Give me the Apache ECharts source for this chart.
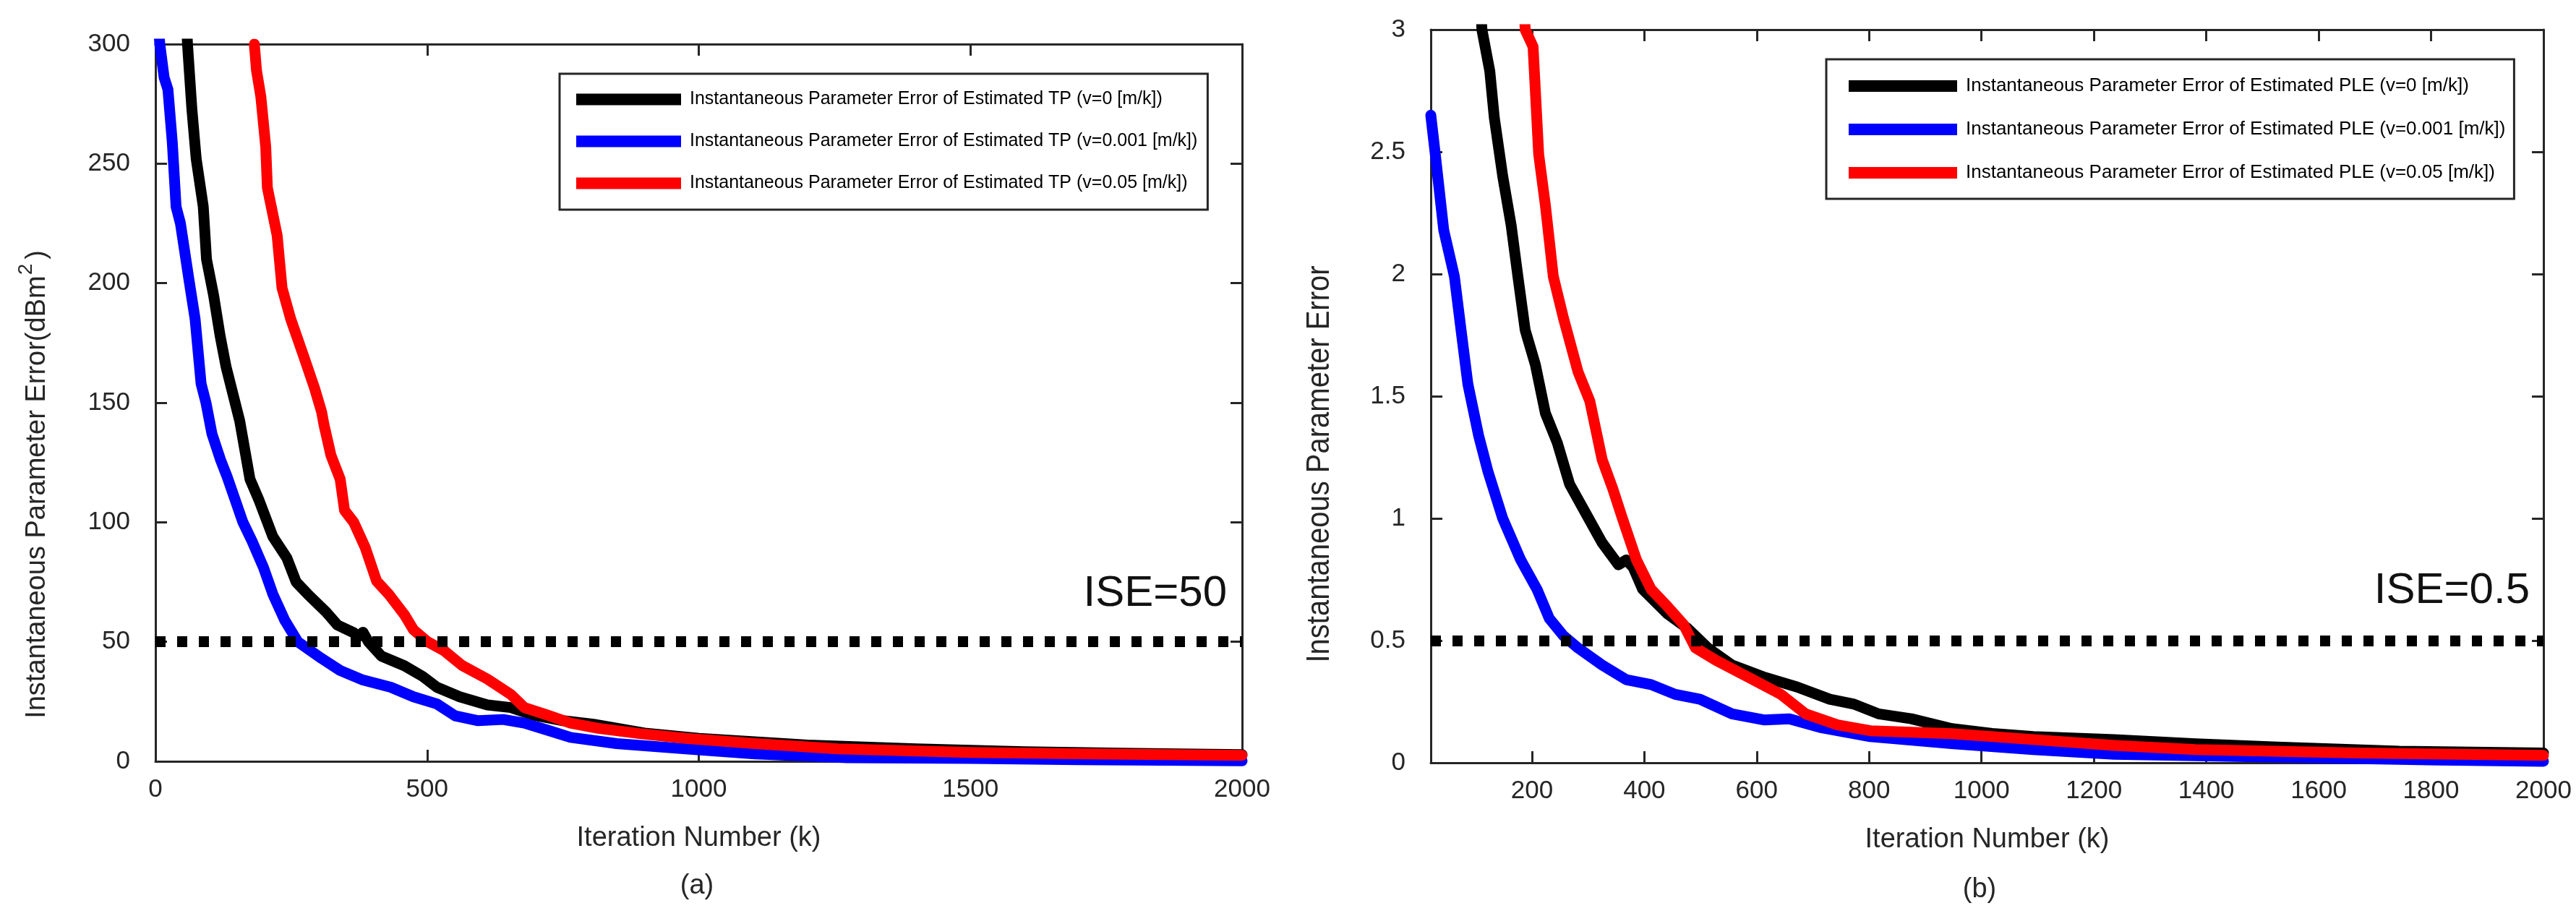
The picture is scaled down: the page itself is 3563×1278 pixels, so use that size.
<!DOCTYPE html>
<html>
<head>
<meta charset="utf-8">
<title>Instantaneous Parameter Error</title>
<script src="https://cdn.jsdelivr.net/npm/echarts@6/dist/echarts.min.js"></script>
<style>
  html, body { margin: 0; padding: 0; background: #fff; }
  #chart { width: 3563px; height: 1278px; }
</style>
</head>
<body>
<div id="chart"></div>
<script>
// values: [iteration k, error]
// (a) transmit power (TP), error in dBm^2
const tpV0 = [[55, 320], [59, 300], [67, 273], [75, 252], [88, 232], [94, 210], [107, 195], [119, 178],
  [130, 165], [155, 142.5], [174, 118], [191, 109], [216, 94], [242, 85], [259, 75], [280, 70],
  [314, 62.5], [335, 57], [365, 53.8], [372, 52], [382, 54], [392, 50], [416, 44], [458, 40],
  [492, 35.5], [518, 31], [560, 27], [611, 23.6], [654, 22.5], [696, 19.3], [747, 17.1], [806, 15.5],
  [900, 11.8], [1000, 9.6], [1200, 6.8], [1400, 5.2], [1600, 4], [1800, 3.3], [2000, 2.8]]
const tpV001 = [[2, 320], [8, 300], [16, 286], [23, 281], [31, 259], [38, 232], [46, 225], [62, 201],
  [73, 185], [84, 158], [93, 150], [104, 137], [120, 126], [132, 119], [161, 100], [178, 92],
  [199, 81], [216, 70], [238, 59], [262, 50], [306, 43], [340, 38], [382, 34], [433, 31], [475, 27],
  [518, 24], [552, 19], [594, 17], [640, 17.5], [679, 16], [722, 13], [764, 10], [849, 7.4],
  [976, 5.2], [1104, 3.1], [1273, 1.5], [1500, 1.2], [1700, 0.7], [2000, 0.2]]
const tpV05 = [[182, 300], [186, 289], [194, 278], [203, 257], [206, 240], [224, 220], [233, 198],
  [249, 185], [272, 170], [293, 156], [306, 146], [310, 141], [323, 128], [340, 118], [348, 105],
  [365, 100], [386, 89.5], [407, 75.4], [429, 70], [458, 61.4], [475, 55], [501, 50], [531, 46.3],
  [565, 40], [611, 34.4], [654, 28], [679, 22.5], [722, 19.3], [764, 16], [815, 13.8], [891, 11.6],
  [976, 9.6], [1104, 7.4], [1256, 5.2], [1500, 3.7], [1750, 3], [2000, 2.5]]

// (b) path loss exponent (PLE)
const pleV0 = [[105, 3.25], [111, 3.0], [125, 2.83], [133, 2.64], [148, 2.40], [163, 2.2], [175, 1.99],
  [188, 1.77], [206, 1.63], [224, 1.43], [245, 1.31], [267, 1.14], [296, 1.02], [325, 0.9],
  [354, 0.81], [368, 0.83], [380, 0.80], [397, 0.71], [441, 0.61], [477, 0.55], [513, 0.47],
  [556, 0.40], [614, 0.35], [672, 0.31], [730, 0.26], [773, 0.24], [817, 0.2], [875, 0.18],
  [947, 0.14], [1019, 0.12], [1092, 0.107], [1236, 0.095], [1381, 0.078], [1526, 0.064],
  [1743, 0.047], [2000, 0.04]]
const pleV001 = [[20, 2.65], [28, 2.49], [43, 2.18], [62, 1.99], [75, 1.75], [86, 1.55], [105, 1.34],
  [122, 1.19], [148, 1.0], [180, 0.83], [209, 0.71], [231, 0.59], [256, 0.52], [282, 0.47],
  [325, 0.40], [368, 0.34], [412, 0.32], [455, 0.28], [499, 0.26], [556, 0.2], [614, 0.175],
  [658, 0.18], [716, 0.143], [802, 0.107], [947, 0.078], [1092, 0.054], [1236, 0.035],
  [1526, 0.023], [1815, 0.011], [2000, 0.006]]
const pleV05 = [[183, 3.25], [188, 3.0], [202, 2.93], [212, 2.49], [224, 2.28], [238, 1.99], [256, 1.82],
  [282, 1.6], [303, 1.48], [325, 1.24], [344, 1.12], [361, 1.0], [386, 0.83], [412, 0.71],
  [441, 0.64], [470, 0.565], [491, 0.47], [527, 0.42], [585, 0.35], [643, 0.28], [687, 0.2],
  [744, 0.155], [802, 0.131], [947, 0.119], [1092, 0.095], [1236, 0.071], [1381, 0.054],
  [1670, 0.04], [2000, 0.03]]

const iseTP = 50
const isePLE = 0.5

const speeds = ['v=0', 'v=0.001', 'v=0.05']
const speedColors = ['#000000', '#0000ff', '#ff0000']

const tpXRange = [0, 2000]
const tpXInterval = 500
const tpYRange = [0, 300]
const tpYInterval = 50
const pleXRange = [20, 2000]
const pleXTicks = [200, 400, 600, 800, 1000, 1200, 1400, 1600, 1800, 2000]
const pleYRange = [0, 3]
const pleYInterval = 0.5

const fontFamily = '"Liberation Sans", Arial, Helvetica, sans-serif'
const axisColor = '#262626'

function legendName (param, speed) {
  return 'Instantaneous Parameter Error of Estimated ' + param + ' (' + speed + ' [m/k])'
}
const tpNames = speeds.map(function (s) { return legendName('TP', s) })
const pleNames = speeds.map(function (s) { return legendName('PLE', s) })

// box-style axis (MATLAB look): ticks inside on all four sides
function frameAxis (gridIndex, position, range, ticks, showLabels) {
  let vertical = position === 'left' || position === 'right'
  let axis = {
    type: 'value',
    gridIndex: gridIndex,
    position: position,
    min: range[0],
    max: range[1],
    splitLine: {show: false},
    axisLine: {show: true, onZero: false, lineStyle: {color: axisColor, width: 3}},
    axisTick: {show: true, inside: true, length: 16, lineStyle: {color: axisColor, width: 3}},
    axisLabel: {
      show: showLabels,
      color: axisColor,
      fontSize: 35,
      fontFamily: fontFamily,
      margin: vertical ? 35 : 22,
      padding: vertical ? [0, 0, 18, 0] : 0,
      formatter: function (v) {
        return String(v)
      }
    }
  }
  if (Array.isArray(ticks)) {
    axis.axisTick.customValues = ticks
    axis.axisLabel.customValues = ticks
  } else {
    axis.interval = ticks
  }
  return axis
}

function curve (name, data, axisIndex, color) {
  return {
    name: name,
    type: 'line',
    xAxisIndex: axisIndex,
    yAxisIndex: axisIndex,
    data: data,
    symbol: 'none',
    showSymbol: false,
    clip: true,
    itemStyle: {color: color},
    lineStyle: {color: color, width: 15, cap: 'round', join: 'round'}
  }
}

function iseLine (value) {
  return {
    silent: true,
    symbol: 'none',
    label: {show: false},
    lineStyle: {color: '#000', width: 15, type: [14, 16], cap: 'butt'},
    data: [{yAxis: value}]
  }
}

function legendBox (names, left, top, itemWidth, itemGap, padding, fontSize) {
  return {
    data: names,
    orient: 'vertical',
    left: left,
    top: top,
    icon: 'rect',
    itemWidth: itemWidth,
    itemHeight: 16,
    itemGap: itemGap,
    padding: padding,
    borderColor: axisColor,
    borderWidth: 3,
    backgroundColor: '#fff',
    selectedMode: false,
    textStyle: {color: '#000', fontSize: fontSize, fontFamily: fontFamily, lineHeight: 16, padding: [0, 0, 0, 7]}
  }
}

let series = []
let tpData = [tpV0, tpV001, tpV05]
let pleData = [pleV0, pleV001, pleV05]
speeds.forEach(function (s, i) {
  series.push(curve(tpNames[i], tpData[i], 0, speedColors[i]))
})
speeds.forEach(function (s, i) {
  series.push(curve(pleNames[i], pleData[i], 2, speedColors[i]))
})
// dotted threshold on top of the curves
series[2].markLine = iseLine(iseTP)
series[5].markLine = iseLine(isePLE)

let myChart = echarts.init(document.getElementById('chart'))
let option = {
  animation: false,
  backgroundColor: '#fff',
  textStyle: {fontFamily: fontFamily},
  grid: [
    {left: 215, top: 61, width: 1503, height: 992},
    {left: 1979, top: 41, width: 1539, height: 1014}
  ],
  xAxis: [
    Object.assign(frameAxis(0, 'bottom', tpXRange, tpXInterval, true), {
      name: 'Iteration Number (k)',
      nameLocation: 'middle',
      nameGap: 88,
      nameTextStyle: {color: axisColor, fontSize: 38, fontFamily: fontFamily}
    }),
    frameAxis(0, 'top', tpXRange, tpXInterval, false),
    Object.assign(frameAxis(1, 'bottom', pleXRange, pleXTicks, true), {
      name: 'Iteration Number (k)',
      nameLocation: 'middle',
      nameGap: 88,
      nameTextStyle: {color: axisColor, fontSize: 38, fontFamily: fontFamily}
    }),
    frameAxis(1, 'top', pleXRange, pleXTicks, false)
  ],
  yAxis: [
    frameAxis(0, 'left', tpYRange, tpYInterval, true),
    frameAxis(0, 'right', tpYRange, tpYInterval, false),
    frameAxis(1, 'left', pleYRange, pleYInterval, true),
    frameAxis(1, 'right', pleYRange, pleYInterval, false)
  ],
  legend: [
    legendBox(tpNames, 774, 102, 145, 33, [23, 14, 24, 23], 25),
    legendBox(pleNames, 2526, 82, 150, 34, [24, 12, 23, 31], 26)
  ],
  graphic: [
    {
      type: 'text', x: 52, y: 670, rotation: Math.PI / 2,
      style: {
        text: '{b|Instantaneous Parameter Error(dBm}{s|2}{b|)}',
        align: 'center',
        verticalAlign: 'middle',
        fill: axisColor,
        rich: {
          b: {fontSize: 38, lineHeight: 60, fontFamily: fontFamily, fill: axisColor},
          s: {fontSize: 28, lineHeight: 30, verticalAlign: 'top', fontFamily: fontFamily, fill: axisColor, padding: [0, 6, 0, 1]}
        }
      }
    },
    {
      type: 'text', x: 1826, y: 642, rotation: Math.PI / 2, scaleY: 1.12,
      style: {text: 'Instantaneous Parameter Error', align: 'center', verticalAlign: 'middle', fill: axisColor, fontSize: 40, fontFamily: fontFamily}
    },
    {
      type: 'text', x: 1697, y: 821,
      style: {text: 'ISE=' + iseTP, align: 'right', verticalAlign: 'middle', fill: '#111', fontSize: 60, fontFamily: fontFamily}
    },
    {
      type: 'text', x: 3499, y: 817,
      style: {text: 'ISE=' + isePLE, align: 'right', verticalAlign: 'middle', fill: '#111', fontSize: 60, fontFamily: fontFamily}
    },
    {
      type: 'text', x: 964, y: 1226,
      style: {text: '(a)', align: 'center', verticalAlign: 'middle', fill: axisColor, fontSize: 38, fontFamily: fontFamily}
    },
    {
      type: 'text', x: 2738, y: 1231,
      style: {text: '(b)', align: 'center', verticalAlign: 'middle', fill: axisColor, fontSize: 38, fontFamily: fontFamily}
    }
  ],
  series: series
}
myChart.setOption(option)
</script>
</body>
</html>
